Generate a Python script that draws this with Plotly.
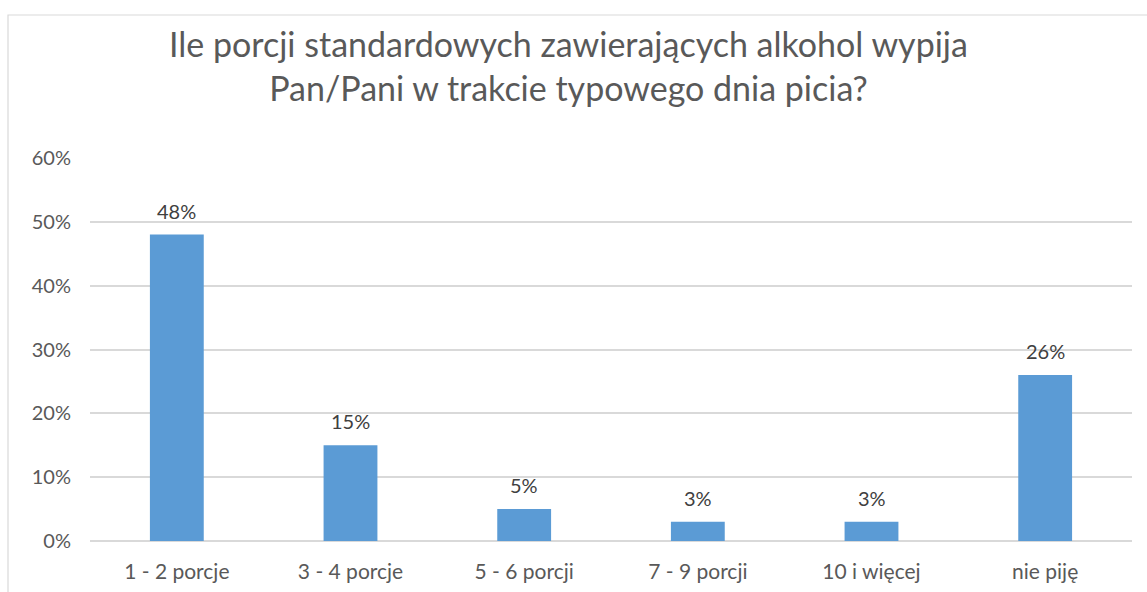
import plotly.graph_objects as go

categories = ["1 - 2 porcje", "3 - 4 porcje", "5 - 6 porcji", "7 - 9 porcji", "10 i więcej", "nie piję"]
values = [0.48, 0.15, 0.05, 0.03, 0.03, 0.26]
labels = ["48%", "15%", "5%", "3%", "3%", "26%"]
title_text = "Ile porcji standardowych zawierających alkohol wypija<br>Pan/Pani w trakcie typowego dnia picia?"

FONT = "Lato"

fig = go.Figure()
fig.add_trace(go.Bar(
    x=categories, y=values,
    marker=dict(color="#5B9BD5", line=dict(width=0)),
    hoverinfo="x+y",
))

for c, v, t in zip(categories, values, labels):
    fig.add_annotation(x=c, y=v, text=t, showarrow=False, xref="x", yref="y",
                       yanchor="bottom", yshift=10,
                       font=dict(family=FONT, size=20, color="#404040"))

W, H = 1147, 592
L, R, T, B = 90, 15, 158, 51
pw = W - L - R
ph = H - T - B

def px_x(p):
    return (p - L) / pw

def px_y(p):
    return (H - B - p) / ph

fig.add_shape(type="rect", xref="paper", yref="paper",
              x0=px_x(8), x1=px_x(1160), y0=px_y(15), y1=px_y(620),
              line=dict(color="#D9D9D9", width=1.2), fillcolor="rgba(0,0,0,0)", layer="below")

fig.add_annotation(text=title_text, xref="paper", yref="paper",
                   x=px_x(568), y=px_y(21), xanchor="center", yanchor="top",
                   showarrow=False, align="center",
                   font=dict(family=FONT, size=34, color="#595959"))

fig.update_layout(
    width=W, height=H,
    margin=dict(l=L, r=R, t=T, b=B, autoexpand=False),
    paper_bgcolor="white", plot_bgcolor="white",
    bargap=0.69,
    showlegend=False,
    xaxis=dict(showgrid=False, showline=False, ticks="", ticklabelstandoff=16, automargin=False,
               tickfont=dict(family=FONT, size=21, color="#595959")),
    yaxis=dict(range=[0, 0.6], dtick=0.1, tickformat=".0%", automargin=False,
               showgrid=True, gridcolor="#D9D9D9", gridwidth=1.5,
               zeroline=True, zerolinecolor="#D9D9D9", zerolinewidth=1.5,
               showline=False, ticks="", ticklen=0, ticklabelstandoff=18,
               tickfont=dict(family=FONT, size=20, color="#595959")),
    font=dict(family=FONT),
)

fig.write_html("out.html", config={"displayModeBar": False},
               post_script="document.body.style.margin='0';document.body.style.overflow='hidden';")
